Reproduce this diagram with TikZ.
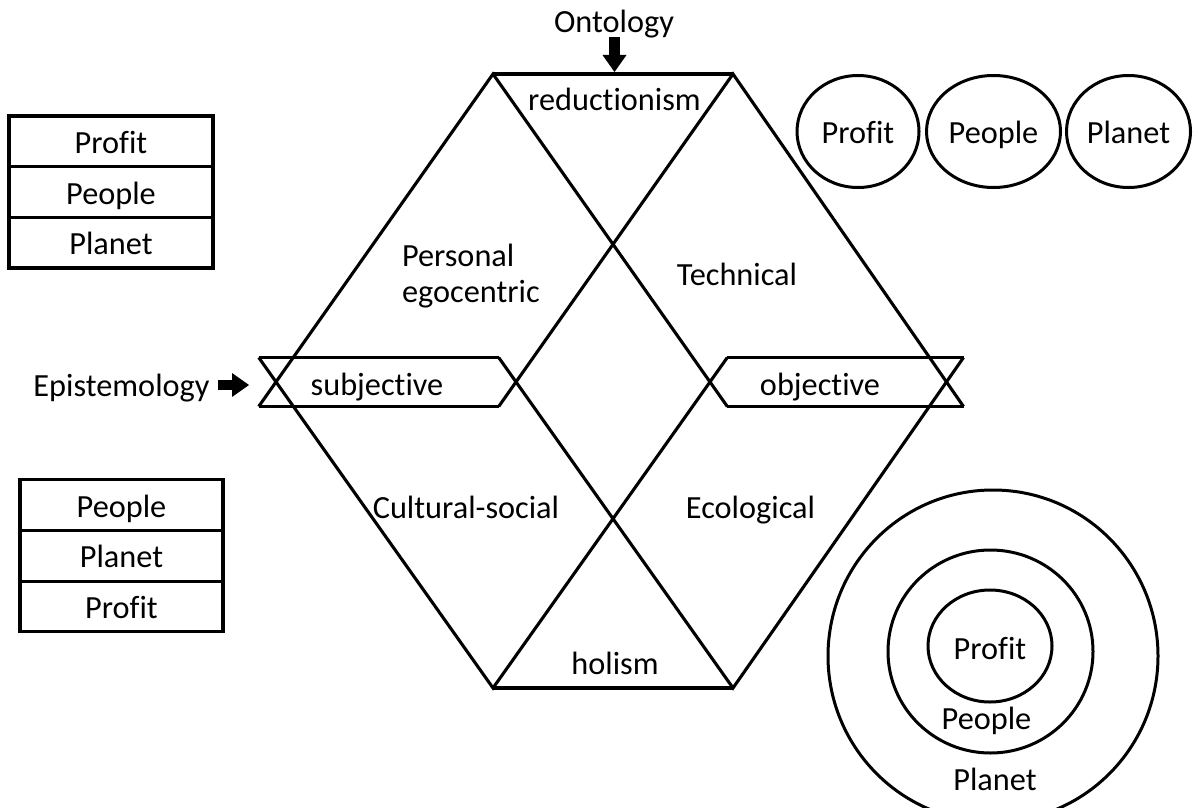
\documentclass[tikz,border=0pt]{standalone}
\usepackage{fontspec}
\setmainfont{Carlito}[Ligatures=NoCommon]
\usetikzlibrary{arrows.meta,shapes.geometric}
\begin{document}
\begin{tikzpicture}[x=1pt,y=-1pt,
  every node/.style={font=\fontsize{32.3}{36}\selectfont, inner sep=0pt, outer sep=0pt},
  lbl/.style={text height=24pt, text depth=0pt},
  edge/.style={line width=3.1pt, line join=miter},
  cell/.style={lbl, draw, line width=3.1pt, minimum width=204pt, minimum height=50.67pt},
  oval/.style={lbl, draw, ellipse, line width=3pt, minimum height=112pt},
  ring/.style={draw, ellipse, line width=3pt},
  blockarrow/.style={line width=10.5pt, -{Triangle[length=17pt,width=24pt,line width=0pt]}}
]
\useasboundingbox (0,0) rectangle (1196,808);
\clip (0,0) rectangle (1196,808);

% corners of the hexagonal frame
\coordinate (TL) at (493,74);
\coordinate (TR) at (733,74);
\coordinate (BL) at (493,688);
\coordinate (BR) at (733,688);

% crossing lines, each running a little past the middle band
\draw[edge] (258.7,406.5) -- (TL) -- (727.3,406.5);
\draw[edge] (498.7,406.5) -- (TR) -- (963.5,406.5);
\draw[edge] (258.7,357.5) -- (BL) -- (727.3,357.5);
\draw[edge] (498.7,357.5) -- (BR) -- (963.5,357.5);
\draw[edge] (TL) -- (TR);
\draw[edge] (BL) -- (BR);

% bands of the epistemology axis
\draw[edge] (258.7,357.5) -- (498.7,357.5);
\draw[edge] (258.7,406.5) -- (498.7,406.5);
\draw[edge] (727.3,357.5) -- (963.5,357.5);
\draw[edge] (727.3,406.5) -- (963.5,406.5);

% labels inside the frame
\node[lbl] (reduct) at (614.5,98) {reductionism};
\node[lbl] (holism) at (615,662) {holism};
\node[lbl] (subj) at (377,383) {subjective};
\node[lbl] (obj) at (820,383) {objective};
\node[anchor=base west] (personal) at (402,266)
  {\begin{tabular}[t]{@{}l@{}}Personal\\egocentric\end{tabular}};
\node[lbl] (technical) at (737,273) {Technical};
\node[lbl] (cultural) at (466,506) {Cultural-social};
\node[lbl] (ecological) at (750.5,506) {Ecological};

% axis titles with their block arrows
\node[lbl] (ontology) at (614,21) {Ontology};
\coordinate (ontoFrom) at (614.5,37);
\coordinate (ontoTo) at (614.5,72);
\draw[blockarrow] (ontoFrom) -- (ontoTo);

\node[lbl] (episteme) at (121.5,384) {Epistemology};
\coordinate (epiFrom) at (218,385);
\coordinate (epiTo) at (249,385);
\draw[blockarrow] (epiFrom) -- (epiTo);

% ranked lists on the left
\node[cell] (lpA) at (111,141.3) {Profit};
\node[cell] (lpB) at (111,192) {People};
\node[cell] (lpC) at (111,242.7) {Planet};

\node[cell, minimum width=203pt] (lqA) at (121.5,505.2) {People};
\node[cell, minimum width=203pt] (lqB) at (121.5,555.8) {Planet};
\node[cell, minimum width=203pt] (lqC) at (121.5,606.5) {Profit};

% three separate pillars
\node[oval, minimum width=122pt] (ovProfit) at (858,131.5) {Profit};
\node[oval, minimum width=134pt] (ovPeople) at (993.5,131.5) {People};
\node[oval, minimum width=124pt] (ovPlanet) at (1128.5,131.5) {Planet};

% nested model
\node[ring, minimum width=330pt, minimum height=332pt] (ringOuter) at (993,656) {};
\node[ring, minimum width=205pt, minimum height=203pt] (ringMid) at (990.5,651.5) {};
\node[ring, minimum width=124pt, minimum height=112pt] (ringIn) at (990,646) {};
\node[lbl] (nProfit) at (990,647) {Profit};
\node[lbl] (nPeople) at (986.5,717) {People};
\node[lbl] (nPlanet) at (995,778) {Planet};
\end{tikzpicture}
\end{document}
